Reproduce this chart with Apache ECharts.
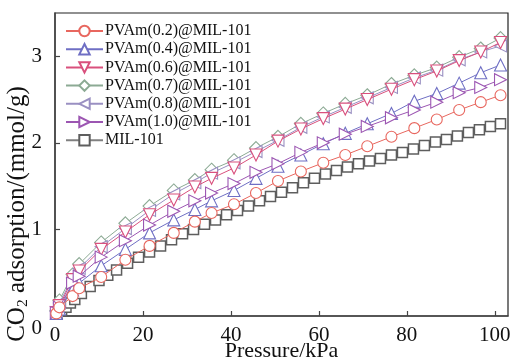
<!DOCTYPE html>
<html><head><meta charset="utf-8">
<script src="https://cdn.jsdelivr.net/npm/echarts@6/dist/echarts.min.js"></script>
<style>html,body{margin:0;padding:0;background:#fff}#c{width:514px;height:360px}</style>
</head><body><div id="c"></div>
<script>
const pressure = [0.3, 1, 4, 5.5, 10.5, 16, 21.5, 27, 31.8, 35.6, 40.7, 45.7, 50.7, 55.9, 61, 66, 71, 76.5, 81.7, 86.8, 91.9, 96.8, 101.3];
const pvam02 = [0.03, 0.10, 0.23, 0.32, 0.45, 0.65, 0.81, 0.96, 1.09, 1.19, 1.29, 1.42, 1.56, 1.67, 1.77, 1.86, 1.96, 2.07, 2.17, 2.27, 2.38, 2.47, 2.55];
const pvam04 = [0.03, 0.08, 0.30, 0.38, 0.58, 0.77, 0.96, 1.11, 1.23, 1.33, 1.45, 1.59, 1.73, 1.86, 1.99, 2.11, 2.22, 2.34, 2.48, 2.57, 2.69, 2.81, 2.90];
const pvam06 = [0.04, 0.12, 0.42, 0.52, 0.77, 0.97, 1.17, 1.34, 1.49, 1.59, 1.71, 1.86, 2.02, 2.16, 2.28, 2.39, 2.50, 2.62, 2.73, 2.83, 2.95, 3.05, 3.16];
const pvam07 = [0.06, 0.18, 0.48, 0.60, 0.85, 1.07, 1.27, 1.45, 1.57, 1.69, 1.80, 1.94, 2.07, 2.22, 2.34, 2.45, 2.55, 2.68, 2.78, 2.87, 2.99, 3.09, 3.21];
const pvam08 = [0.05, 0.15, 0.44, 0.55, 0.80, 1.01, 1.22, 1.41, 1.54, 1.65, 1.77, 1.90, 2.03, 2.18, 2.30, 2.41, 2.52, 2.64, 2.75, 2.84, 2.96, 3.05, 3.12];
const pvam10 = [0.04, 0.10, 0.38, 0.46, 0.68, 0.87, 1.05, 1.21, 1.33, 1.42, 1.53, 1.66, 1.76, 1.89, 2.00, 2.10, 2.19, 2.29, 2.38, 2.47, 2.58, 2.64, 2.73];
const milPressure = [0.5, 1.5, 2.5, 3.5, 4.5, 6, 8, 10, 12, 14, 16.5, 19, 21.5, 24, 26.5, 29, 31.5, 34, 36.5, 39, 41.5, 44, 46.5, 49, 51.5, 54, 56.5, 59, 61.5, 64, 66.5, 69, 71.5, 74, 76.5, 79, 81.5, 84, 86.5, 89, 91.5, 94, 96.5, 99, 101.3];
const mil101 = [0.02, 0.06, 0.10, 0.15, 0.19, 0.26, 0.34, 0.41, 0.47, 0.53, 0.61, 0.68, 0.74, 0.81, 0.88, 0.95, 1.00, 1.06, 1.11, 1.17, 1.22, 1.27, 1.33, 1.38, 1.43, 1.48, 1.54, 1.59, 1.64, 1.68, 1.72, 1.76, 1.79, 1.82, 1.86, 1.89, 1.93, 1.97, 2.01, 2.04, 2.08, 2.12, 2.15, 2.19, 2.22];
const seriesNames = ['PVAm(0.2)@MIL-101','PVAm(0.4)@MIL-101','PVAm(0.6)@MIL-101','PVAm(0.7)@MIL-101','PVAm(0.8)@MIL-101','PVAm(1.0)@MIL-101','MIL-101'];
const xTicks = [0, 20, 40, 60, 80, 100];
const yTicks = [0, 1, 2, 3];
const xName = 'Pressure/kPa';
const yName = 'CO{sub|2} adsorption/(mmol/g)';

const FONT = "'Times New Roman','Liberation Serif',serif";
const zip = (xs, ys) => xs.map((x, i) => [x, ys[i]]);
function mk(name, xs, ys, color, symbol, rot, size, z, border, bw) {
  return {
    name, type: 'line', data: zip(xs, ys), z,
    symbol, symbolRotate: rot, symbolSize: size, showSymbol: true,
    lineStyle: { color, width: 1 },
    itemStyle: { color: '#fff', borderColor: border || color, borderWidth: bw || 1.1 },
    emphasis: { disabled: true }, animation: false
  };
}
const chart = echarts.init(document.getElementById('c'), null, { renderer: 'canvas' });
chart.setOption({
  animation: false,
  grid: { left: 55, right: 6, top: 13, bottom: 44, show: true, borderColor: '#222', borderWidth: 1.2, backgroundColor: 'transparent',
    containLabel: false, outerBoundsMode: 'none' },
  legend: {
    orient: 'vertical', left: 60, top: 18, itemWidth: 37, itemHeight: 13, itemGap: 2.2,
    textStyle: { fontFamily: FONT, fontSize: 16, lineHeight: 16, color: '#111', padding: [0, 0, 0, -3] },
    data: seriesNames
  },
  graphic: [{
    type: 'text', x: 17, y: 214, rotation: Math.PI / 2, silent: true,
    style: { text: yName, fontFamily: FONT, fontSize: 25, fill: '#111', align: 'center', verticalAlign: 'middle',
      rich: { sub: { fontFamily: FONT, fontSize: 15.5, fill: '#111', padding: [12, 0, 0, 0] } } }
  }],
  xAxis: {
    type: 'value', min: 0, max: 103, interval: 20,
    name: xName, nameLocation: 'middle', nameGap: 24, nameMoveOverlap: false,
    nameTextStyle: { fontFamily: FONT, fontSize: 22, color: '#111', verticalAlign: 'top' },
    axisLine: { lineStyle: { color: '#444', width: 1.5 } },
    axisTick: { inside: true, length: 5, lineStyle: { color: '#444', width: 1.2 } },
    axisLabel: { fontFamily: FONT, fontSize: 21, color: '#111', margin: 9, showMaxLabel: false,
      formatter: v => xTicks.includes(v) ? String(v) : '' },
    splitLine: { show: false }
  },
  yAxis: {
    type: 'value', min: 0, max: 3.5, interval: 1,
    axisLine: { lineStyle: { color: '#444', width: 1.5 } },
    axisTick: { inside: true, length: 5, lineStyle: { color: '#444', width: 1.2 } },
    axisLabel: { fontFamily: FONT, fontSize: 21, color: '#111', margin: 13, showMaxLabel: false, lineHeight: 25,
      formatter: v => v === 0 ? '\n0' : (yTicks.includes(v) ? String(v) : '') },
    splitLine: { show: false }
  },
  series: [
    mk(seriesNames[0], pressure, pvam02, '#e8675f', 'circle', 0, 11, 6),
    mk(seriesNames[1], pressure, pvam04, '#6f6fc4', 'triangle', 0, 12, 5),
    mk(seriesNames[2], pressure, pvam06, '#d9507d', 'triangle', 180, 12, 4),
    mk(seriesNames[3], pressure, pvam07, '#8caa94', 'diamond', 0, [13, 13], 2),
    mk(seriesNames[4], pressure, pvam08, '#9a90c2', 'triangle', 90, 12, 3),
    mk(seriesNames[5], pressure, pvam10, '#9c56b2', 'triangle', -90, 12, 5),
    mk(seriesNames[6], milPressure, mil101, '#808080', 'rect', 0, 10, 1, '#5e5e5e', 1.5)
  ]
});
</script></body></html>
